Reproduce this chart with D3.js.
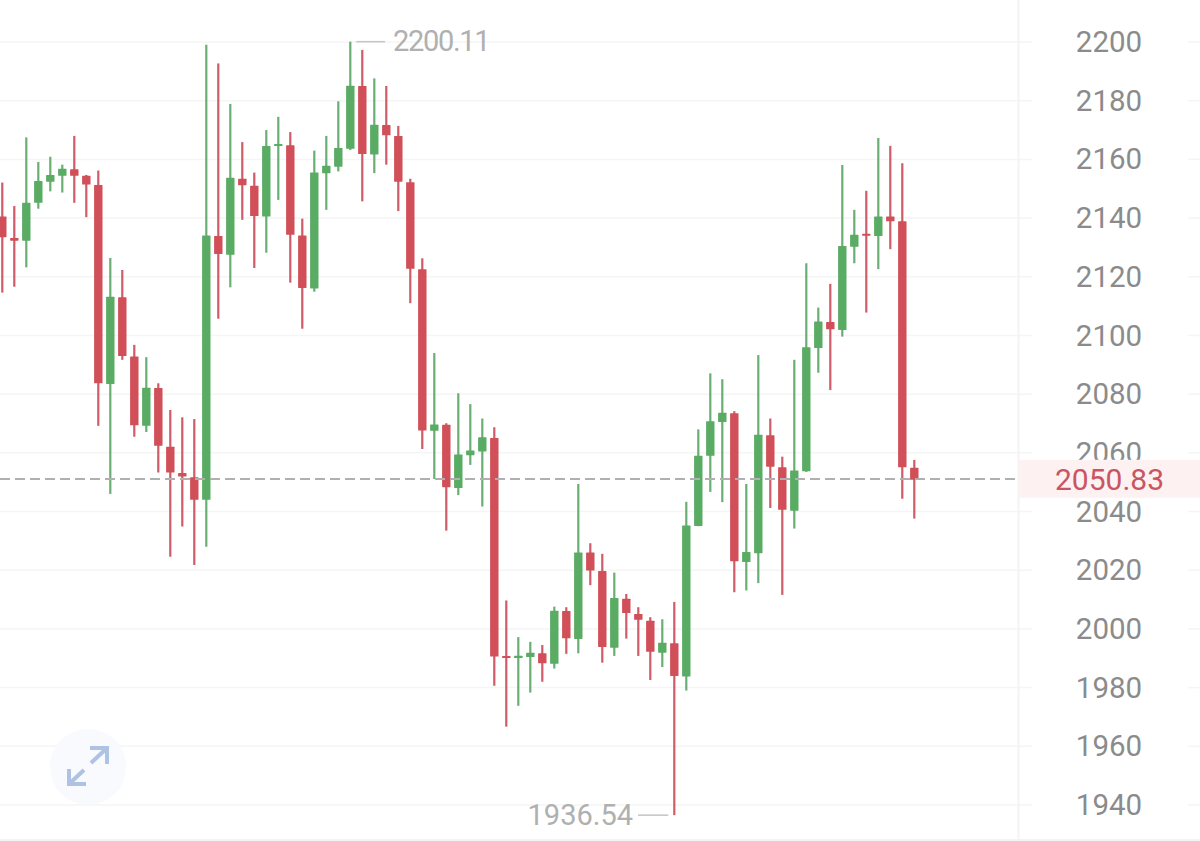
<!DOCTYPE html>
<html>
<head>
<meta charset="utf-8">
<script src="https://cdn.jsdelivr.net/npm/d3@7/dist/d3.min.js"></script>
<style>
html,body{margin:0;padding:0;background:#fff;overflow:hidden}
svg{display:block;font-family:Roboto,"Noto Sans",sans-serif}
</style>
</head>
<body>
<svg id="c" width="1200" height="841"></svg>
<script>
const opens = [2140.5,2133.2,2132.3,2145.2,2152.4,2154.4,2156.6,2154.4,2151.3,2083.5,2113,2092.8,2069.2,2082.1,2062.1,2053.1,2051.7,2044,2133.9,2127.5,2153.4,2151,2140.5,2164.6,2164.8,2134.1,2116,2155.3,2157.5,2163.6,2185,2161.7,2171.7,2168,2152.2,2122.6,2067.5,2069.6,2048,2059.2,2060.5,2065.1,1990.8,1990.1,1990.4,1991.7,1988.1,2006.1,1996.6,2026,2019.7,1993.6,2010.3,2005.1,2002.8,1991.9,1995.1,1983.8,2035.1,2059,2070.5,2073.5,2022.8,2025.8,2066,2055.1,2040.3,2053.7,2095.7,2104.6,2101.9,2130.2,2134.7,2133.9,2140.5,2138.9,2054.9];
const highs = [2152.1,2144.1,2167.5,2159.1,2160.9,2158.2,2168,2154.7,2156.2,2126.4,2122.3,2096.8,2092.6,2083.7,2074.6,2072.1,2071.5,2199.1,2192.7,2178.9,2165.9,2155.5,2170,2174.5,2169.3,2139.8,2163,2168,2179.8,2200.11,2197.3,2187.6,2185,2171.4,2153.4,2126.3,2094,2070.1,2080.3,2076.6,2071.7,2068.7,2009.7,1997.2,1995.6,1994.5,2007.6,2007.4,2049.4,2029.2,2025.6,2019.2,2011.9,2007.4,2004,2003.3,2009.2,2043.3,2068,2087.1,2085.1,2074.2,2049.4,2093.3,2071.7,2058.7,2091.7,2124.6,2109.5,2117.6,2158.1,2142.8,2149.3,2167.3,2164.6,2158.7,2057.6];
const lows = [2114.6,2116.6,2123.2,2143.2,2149.1,2148.7,2145.2,2140.3,2069.2,2046,2091.7,2065.5,2067.1,2053.3,2024.6,2034.9,2021.8,2028,2105.7,2116.4,2139.4,2123,2128.2,2146.2,2118,2102.3,2114.9,2142.8,2155.9,2163.2,2145.7,2155.3,2158.2,2142.4,2111,2061.3,2051.1,2033.5,2045.6,2055.9,2041.7,1980.6,1966.7,1973.8,1978.3,1982,1986.5,1991.5,1991.7,2014.9,1988.5,1990.8,1996.7,1990.8,1982.6,1987,1936.54,1979,2035,2046.7,2043.2,2012.5,2013.1,2015.6,2041.2,2011.6,2034.2,2053.5,2087.3,2081.4,2099.6,2124.6,2107.8,2122.6,2129.4,2044.4,2037.6];
const closes = [2133.5,2132.3,2145.2,2152.6,2154.7,2156.8,2154.4,2151.4,2083.7,2113.2,2093,2069.4,2082.2,2062.4,2053.3,2051.9,2044,2134.1,2127.8,2153.7,2151.2,2140.7,2164.6,2165.2,2134.3,2116.2,2155.5,2157.8,2163.9,2185.1,2161.8,2171.8,2168.2,2152.4,2122.7,2067.6,2069.7,2048.3,2059.4,2060.8,2065.3,1990.6,1990.1,1990.9,1991.9,1988.3,2006.2,1996.8,2026,2019.9,1993.8,2010.5,2005.4,2003.1,1992.2,1995.3,1984,2035.2,2059,2070.8,2073.7,2023.1,2026.2,2066.2,2055.3,2040.6,2054,2096,2104.8,2102.1,2130.5,2134.3,2134,2140.5,2138.9,2055.1,2050.83];
const yTicks = [2200,2180,2160,2140,2120,2100,2080,2060,2040,2020,2000,1980,1960,1940];
const lastPrice = 2050.83;
const maxValue = 2200.11;
const minValue = 1936.54;

const up = "#5aab64", down = "#d04f58", upWick = "#69ae72", downWick = "#cf5b68";
const svg = d3.select("#c");
const x = d3.scaleLinear().domain([0,76]).range([2.3,914.3]);
const y = d3.scaleLinear().domain([1940,2200]).range([805,42]);
const indices = d3.range(opens.length);

// gridlines, split around the tick labels
const grid = svg.append("g").attr("stroke","#f5f5f6").attr("stroke-width",1.5);
yTicks.forEach(t=>{
  grid.append("line").attr("x1",0).attr("x2",1032).attr("y1",y(t)).attr("y2",y(t));
  grid.append("line").attr("x1",1188).attr("x2",1200).attr("y1",y(t)).attr("y2",y(t));
});
svg.append("line").attr("x1",1018.5).attr("x2",1018.5).attr("y1",0).attr("y2",841).attr("stroke","#f3f3f4").attr("stroke-width",2);
svg.append("line").attr("x1",0).attr("x2",1200).attr("y1",840).attr("y2",840).attr("stroke","#f3f3f4").attr("stroke-width",2);

// expand button
const btn = svg.append("g").attr("transform","translate(88,767)");
btn.append("circle").attr("r",38).attr("fill","#f8fafe");
const arrows = btn.append("g").attr("fill","none").attr("stroke","#aec2e4").attr("stroke-width",4);
arrows.append("path").attr("d","M3,-4L19,-19M2,-19H19V-3");
arrows.append("path").attr("d","M-4,3L-19,17M-19,2V17H-2");

// right axis labels
const axis = d3.axisRight(y).tickValues(yTicks).tickSize(0).tickPadding(0).tickFormat(d3.format("d"));
const ag = svg.append("g").attr("transform","translate(1109,-0.4)").call(axis);
ag.select(".domain").remove();
ag.selectAll("text").attr("x",0).attr("dy",null).attr("dominant-baseline","central")
  .attr("text-anchor","middle").attr("fill","#8b8b8b").attr("font-size",29.5).attr("font-family","Roboto,sans-serif");

// last price band sits over the axis label it meets
svg.append("rect").attr("x",1019).attr("y",y(lastPrice)-20).attr("width",181).attr("height",38).attr("fill","#fdf1f1");

// wicks and bodies
const marks = svg.append("g");
marks.selectAll("line.wick").data(indices).join("line").attr("class","wick")
  .attr("x1",i=>x(i)).attr("x2",i=>x(i))
  .attr("y1",i=>y(highs[i])).attr("y2",i=>y(lows[i]))
  .attr("stroke",i=>closes[i]>=opens[i]?upWick:downWick).attr("stroke-width",2.2);
marks.selectAll("rect.body").data(indices).join("rect").attr("class","body")
  .attr("x",i=>x(i)-4.2).attr("width",8.4)
  .attr("y",i=>y(Math.max(opens[i],closes[i])))
  .attr("height",i=>Math.max(2,Math.abs(y(opens[i])-y(closes[i]))))
  .attr("rx",0.6)
  .attr("fill",i=>closes[i]>=opens[i]?up:down);

// last price line
svg.append("line").attr("x1",0).attr("x2",1016).attr("y1",y(lastPrice)-0.7).attr("y2",y(lastPrice)-0.7)
  .attr("stroke","#b0b0b0").attr("stroke-width",2).attr("stroke-dasharray","10 5");

svg.append("text").attr("x",1109.5).attr("y",y(lastPrice)).attr("dominant-baseline","central")
  .attr("text-anchor","middle").attr("fill","#c95563").attr("font-size",30).text(lastPrice.toFixed(2));

// extreme labels
const extGrey = "#b0b0b0";
svg.append("line").attr("x1",x(29)+6).attr("x2",385).attr("y1",y(maxValue)).attr("y2",y(maxValue)).attr("stroke","#c4c4c4").attr("stroke-width",1.5);
svg.append("text").attr("x",393).attr("y",y(maxValue)-0.5).attr("dominant-baseline","central").attr("fill",extGrey).attr("font-size",29).attr("letter-spacing",-1.3).text(maxValue.toFixed(2));
svg.append("line").attr("x1",638).attr("x2",x(56)-6).attr("y1",y(minValue)).attr("y2",y(minValue)).attr("stroke","#c4c4c4").attr("stroke-width",1.5);
svg.append("text").attr("x",633).attr("y",y(minValue)).attr("dominant-baseline","central").attr("text-anchor","end").attr("fill",extGrey).attr("font-size",29).text(minValue.toFixed(2));
</script>
</body>
</html>
